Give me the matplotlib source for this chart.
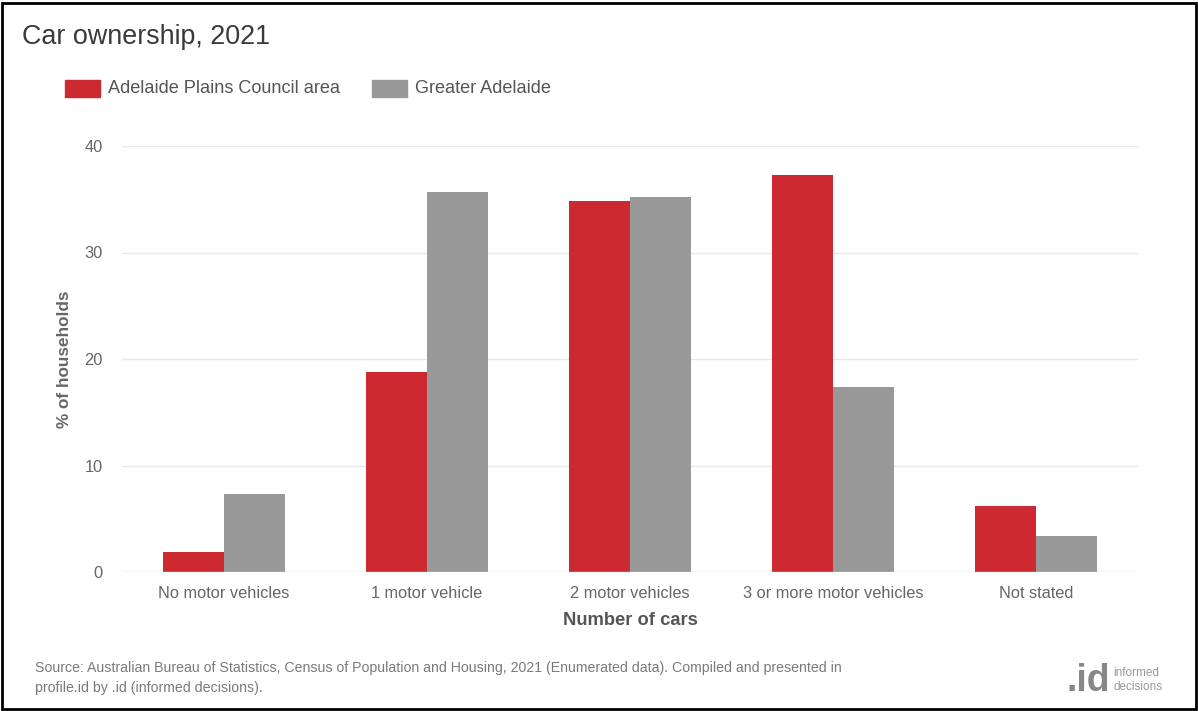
import matplotlib
matplotlib.use("Agg")
import matplotlib.pyplot as plt
import numpy as np
from matplotlib.patches import Rectangle

plt.rcParams['font.family'] = ['Liberation Sans', 'DejaVu Sans']

categories = ["No motor vehicles", "1 motor vehicle", "2 motor vehicles",
              "3 or more motor vehicles", "Not stated"]
series_names = ["Adelaide Plains Council area", "Greater Adelaide"]
adelaide_plains = [1.9, 18.8, 34.8, 37.3, 6.2]
greater_adelaide = [7.3, 35.7, 35.2, 17.4, 3.4]
y_ticks = [0, 10, 20, 30, 40]

RED = "#cc2a30"
GREY = "#999999"

W, H = 1198, 711
fig = plt.figure(figsize=(W / 100, H / 100), dpi=100)
fig.patch.set_facecolor("white")

def fx(px):
    return px / W

def fy(py):
    return 1 - py / H

ax = fig.add_axes([fx(122), fy(572), fx(1138) - fx(122), fy(146) - fy(572)])

x = np.arange(len(categories))
bw = 0.3
ax.bar(x - bw / 2, adelaide_plains, width=bw, color=RED, zorder=3)
ax.bar(x + bw / 2, greater_adelaide, width=bw, color=GREY, zorder=3)

ax.set_xlim(-0.5, len(categories) - 0.5)
ax.set_ylim(0, 40)
ax.set_yticks(y_ticks)
ax.set_yticklabels([str(t) for t in y_ticks])
ax.set_xticks(x)
ax.set_xticklabels(categories)
ax.tick_params(axis='both', length=0, colors="#666666", labelsize=11.8)
ax.tick_params(axis='y', pad=14)
ax.tick_params(axis='x', pad=10)

for t in y_ticks[1:]:
    ax.axhline(t, color="#e8e8e8", lw=1, zorder=1)
ax.axhline(0, color="#cfcfcf", lw=1, zorder=4)
for s in ax.spines.values():
    s.set_visible(False)

ax.set_ylabel("% of households", fontsize=12.3, fontweight="bold", color="#666666", labelpad=9)
ax.set_xlabel("Number of cars", fontsize=13.2, fontweight="bold", color="#555555", labelpad=8)

# Title
fig.text(fx(22), fy(37), "Car ownership, 2021", fontsize=19.4, color="#3a3a3a",
         ha="left", va="center")

# Legend
fig.patches.append(Rectangle((fx(65), fy(97)), fx(35), fy(80) - fy(97),
                             transform=fig.transFigure, color=RED))
fig.text(fx(108), fy(88.5), series_names[0], fontsize=13.1, color="#555555",
         ha="left", va="center")
fig.patches.append(Rectangle((fx(372), fy(97)), fx(35), fy(80) - fy(97),
                             transform=fig.transFigure, color=GREY))
fig.text(fx(415), fy(88.5), series_names[1], fontsize=13.1, color="#555555",
         ha="left", va="center")

# Footer
fig.text(fx(35), fy(668),
         "Source: Australian Bureau of Statistics, Census of Population and Housing, 2021 (Enumerated data). Compiled and presented in",
         fontsize=10.2, color="#7a7a7a", ha="left", va="center")
fig.text(fx(35), fy(688), "profile.id by .id (informed decisions).",
         fontsize=10.2, color="#7a7a7a", ha="left", va="center")

# Logo
fig.text(fx(1110), fy(681), ".id", fontsize=27, fontweight="bold", color="#888888",
         ha="right", va="center")
fig.text(fx(1113), fy(673), "informed", fontsize=8.5, color="#999999", ha="left", va="center")
fig.text(fx(1113), fy(687), "decisions", fontsize=8.5, color="#999999", ha="left", va="center")

# Outer frame
fig.patches.append(Rectangle((fx(2), fy(709)), fx(1194), fy(3) - fy(709),
                             transform=fig.transFigure, fill=False,
                             edgecolor="black", lw=2))

fig.savefig("out.png", dpi=100, facecolor="white")
